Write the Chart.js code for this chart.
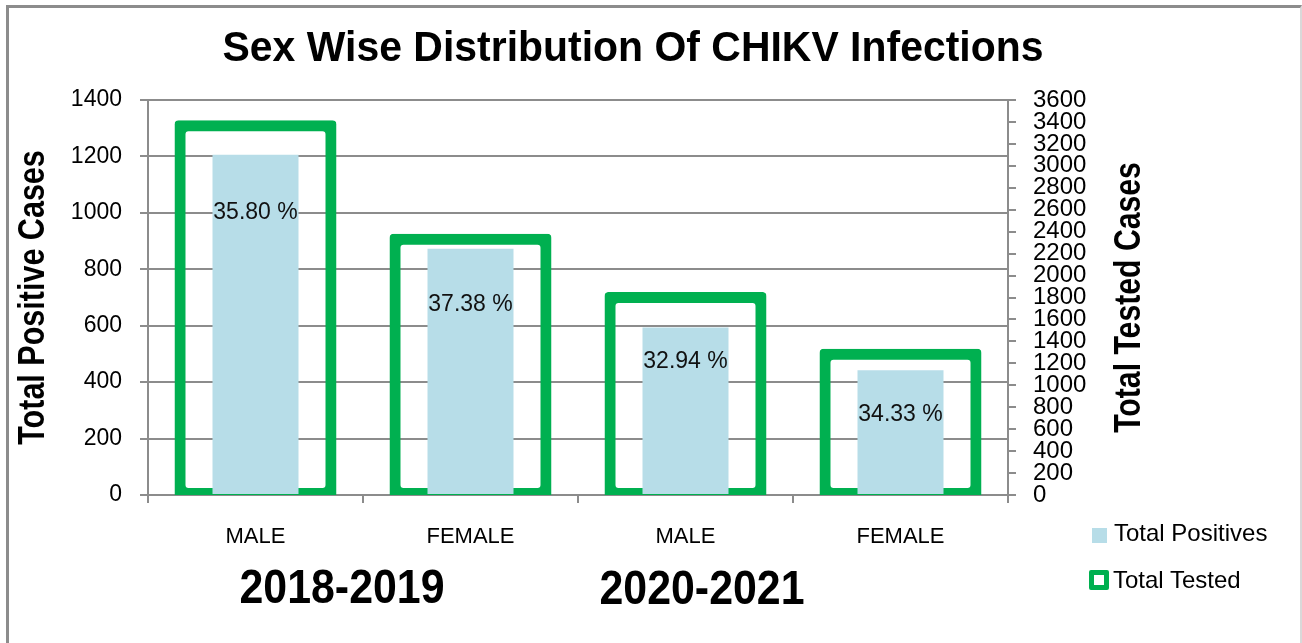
<!DOCTYPE html>
<html>
<head>
<meta charset="utf-8">
<title>Sex Wise Distribution Of CHIKV Infections</title>
<script src="https://cdn.jsdelivr.net/npm/chart.js@4.4.1/dist/chart.umd.min.js"></script>
<style>
  html, body { margin: 0; padding: 0; background: #fff; overflow: hidden; }
  #wrap { position: relative; width: 1302px; height: 643px; }
  #frame {
    position: absolute; left: 6px; top: 5px; width: 1296px; height: 700px;
    border-top: 3px solid #8c8c8c; border-left: 3px solid #8c8c8c; border-right: 2px solid #d9d9d9;
    box-sizing: border-box;
  }
  canvas { position: absolute; left: 0; top: 0; }
  .lg { position: absolute; font: 24px 'Liberation Sans', Arial, sans-serif; line-height: 28px; color: #000; white-space: nowrap; }
  .sw-blue { position: absolute; left: 1092px; top: 528px; width: 15px; height: 15px; background: #b7dde8; }
  .sw-green { position: absolute; left: 1089px; top: 570px; width: 20px; height: 20px; border: 5px solid #00b050; border-radius: 2px; box-sizing: border-box; background: #fff; }
</style>
</head>
<body>
<div id="wrap">
  <div id="frame"></div>
  <canvas id="chikvChart" width="1302" height="643"></canvas>
  <div class="sw-blue"></div>
  <div class="lg" style="left:1114px;top:519px">Total Positives</div>
  <div class="sw-green"></div>
  <div class="lg" style="left:1113px;top:566px">Total Tested</div>
</div>
<script>
// data
const categories = ['MALE', 'FEMALE', 'MALE', 'FEMALE'];
const totalPositives = [1206, 873, 594, 442];
const totalTested = [3370, 2335, 1805, 1287];
const pctLabels = ['35.80 %', '37.38 %', '32.94 %', '34.33 %'];
const periods = ['2018-2019', '2020-2021'];
const leftTicks = [0, 200, 400, 600, 800, 1000, 1200, 1400];
const rightTicks = [0, 200, 400, 600, 800, 1000, 1200, 1400, 1600, 1800, 2000, 2200, 2400, 2600, 2800, 3000, 3200, 3400, 3600];

const FONT = "'Liberation Sans', Arial, sans-serif";
const gridColor = '#8c8c8c';

// distance (px) from bar top to the percentage label
const labelOffsets = [58, 56, 34, 44];

// no narrow font installed, so squeeze bold text horizontally
function narrowText(ctx, txt, x, y, squeeze, angle) {
    ctx.save();
    ctx.translate(x, y);
    if (angle) ctx.rotate(angle);
    ctx.scale(squeeze, 1);
    ctx.fillText(txt, 0, 0);
    ctx.restore();
}

const extraText = {
    id: 'extraText',
    afterDatasetsDraw(chart) {
        const ctx = chart.ctx;
        const meta = chart.getDatasetMeta(0);
        ctx.save();
        ctx.fillStyle = '#111';
        ctx.font = '23px ' + FONT;
        ctx.textAlign = 'center';
        ctx.textBaseline = 'middle';
        meta.data.forEach((bar, i) => {
            ctx.fillText(pctLabels[i], bar.x, bar.y + labelOffsets[i]);
        });
        ctx.restore();
    },
    afterDraw(chart) {
        const ctx = chart.ctx;
        const area = chart.chartArea;
        const midY = (area.top + area.bottom) / 2;
        ctx.save();
        ctx.fillStyle = '#000';
        ctx.textAlign = 'center';
        ctx.textBaseline = 'middle';

        // chart title
        ctx.font = 'bold 42px ' + FONT;
        narrowText(ctx, 'Sex Wise Distribution Of CHIKV Infections', 633, 49, 0.975);

        // period labels under the categories
        ctx.font = 'bold 49px ' + FONT;
        narrowText(ctx, periods[0], 342, 589, 0.875);
        narrowText(ctx, periods[1], 702, 590, 0.875);

        // axis titles, both read bottom to top
        ctx.font = 'bold 37px ' + FONT;
        narrowText(ctx, 'Total Positive Cases', 33.5, midY, 0.825, -Math.PI / 2);
        narrowText(ctx, 'Total Tested Cases', 1129.5, midY, 0.816, -Math.PI / 2);
        ctx.restore();
    }
};

new Chart(document.getElementById('chikvChart'), {
    type: 'bar',
    data: {
        labels: categories,
        datasets: [
            {
                label: 'Total Positives',
                data: totalPositives,
                yAxisID: 'y',
                backgroundColor: '#b7dde8',
                barPercentage: 0.4,
                categoryPercentage: 1,
                order: 1
            },
            {
                label: 'Total Tested',
                data: totalTested,
                yAxisID: 'y1',
                backgroundColor: 'rgba(0,0,0,0)',
                borderColor: '#00b050',
                borderWidth: 1,
                inflateAmount: 5,   // border centred on the bar edge, like the original
                borderSkipped: false,
                borderRadius: 4,
                barPercentage: 0.707,
                categoryPercentage: 1,
                clip: 0,
                order: 2
            }
        ]
    },
    options: {
        responsive: false,
        animation: false,
        layout: { padding: { top: 100, left: 0, right: 0, bottom: 0 } },
        datasets: { bar: { grouped: false } },
        plugins: {
            legend: { display: false },
            tooltip: { enabled: false },
            title: { display: false }
        },
        scales: {
            x: {
                grid: { offset: true, drawOnChartArea: false, tickLength: 8, color: gridColor, lineWidth: 2 },
                border: { color: gridColor, width: 2 },
                ticks: { font: { family: FONT, size: 22 }, color: '#000', padding: 21 },
                afterFit: s => { s.height = 148; }
            },
            y: {
                position: 'left',
                min: 0,
                max: 1400,
                afterBuildTicks: s => { s.ticks = leftTicks.map(v => ({ value: v })); },
                grid: { tickLength: 8, color: gridColor, lineWidth: 2 },
                border: { color: gridColor, width: 2 },
                ticks: { font: { family: FONT, size: 23 }, color: '#000', padding: 18, callback: v => String(v) },
                afterFit: s => { s.width = 148; }
            },
            y1: {
                position: 'right',
                min: 0,
                max: 3600,
                afterBuildTicks: s => { s.ticks = rightTicks.map(v => ({ value: v })); },
                grid: { drawOnChartArea: false, tickLength: 8, color: gridColor, lineWidth: 2 },
                border: { color: gridColor, width: 2 },
                ticks: { autoSkip: false, font: { family: FONT, size: 24, lineHeight: 1 }, color: '#000', padding: 17, callback: v => String(v) },
                afterFit: s => { s.width = 294; }
            }
        }
    },
    plugins: [extraText]
});
</script>
</body>
</html>
